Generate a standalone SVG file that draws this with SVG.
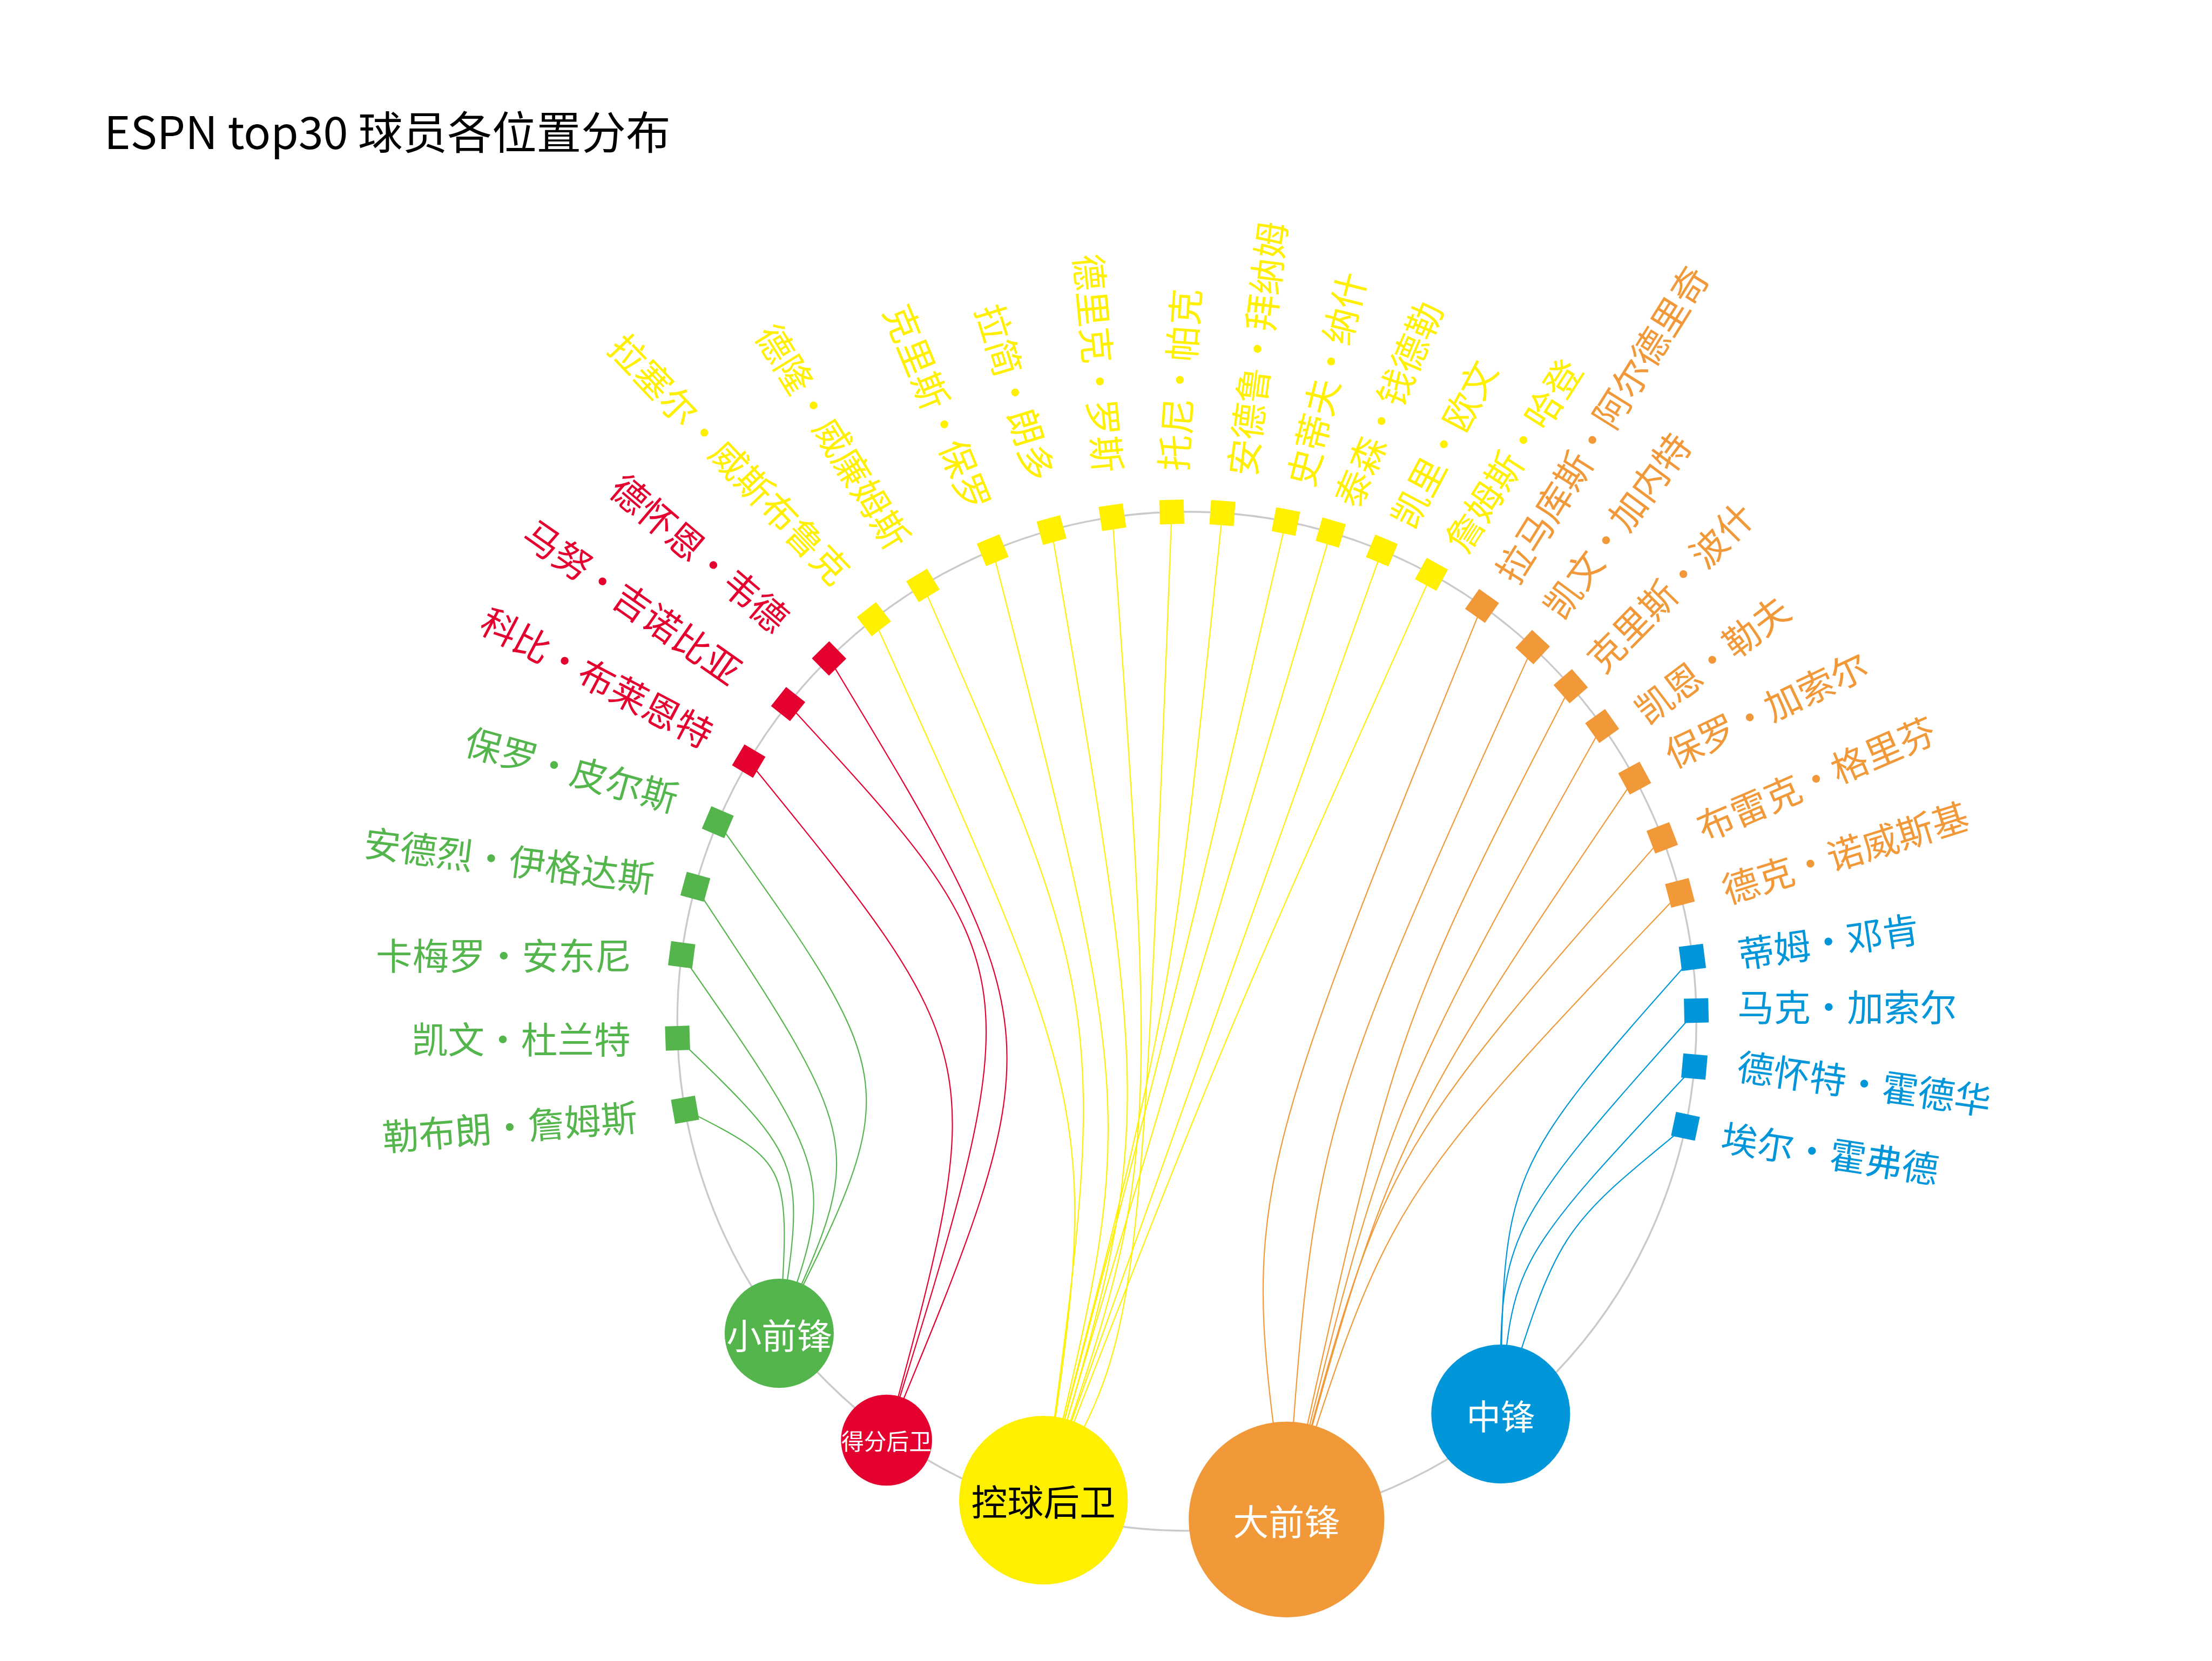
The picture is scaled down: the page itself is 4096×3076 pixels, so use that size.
<svg xmlns="http://www.w3.org/2000/svg" width="4096" height="3076" viewBox="0 0 4096 3076">
<style>
text{font-family:"Noto Sans CJK SC","Noto Sans",sans-serif}
.lbl{font-size:81px;text-anchor:middle;dominant-baseline:central}
.nd{text-anchor:middle;dominant-baseline:central}
.g{fill:#53b54c}.r{fill:#e4002f}.y{fill:#fff000}.o{fill:#f19838}.b{fill:#0096d9}
#connectors path{fill:none;stroke-width:2.6}
.cg{stroke:#53b54c}.cr{stroke:#e4002f}.cy{stroke:#fff000}.co{stroke:#f19838}.cb{stroke:#0096d9}
</style>
<defs><rect id="sq" x="-27" y="-27" width="54" height="54"/></defs>
<rect width="4096" height="3076" fill="#fff"/>
<g transform="scale(0.835)">
<text x="231" y="330" font-size="99" fill="#000">ESPN top30 球员各位置分布</text>
<circle id="ring" cx="2632" cy="2265" r="1130" fill="none" stroke="#cacaca" stroke-width="4"/>
<g id="connectors">
<path class="cg" d="M1519.2 2461.2C1754 2580 1754 2580 1728 2957"/>
<path class="cg" d="M1502.6 2302.5C1788 2577 1788 2577 1728 2957"/>
<path class="cg" d="M1511.7 2117.5C1853 2608 1853 2608 1728 2957"/>
<path class="cg" d="M1542 1966.8C1921 2539 1921 2539 1728 2957"/>
<path class="cg" d="M1591.8 1823.5C2005 2403 2005 2403 1728 2957"/>
<path class="cr" d="M1660.4 1688C2196 2346 2196 2346 1966 3194"/>
<path class="cr" d="M1747.7 1561.6C2290 2150 2290 2150 1966 3194"/>
<path class="cr" d="M1838.6 1460.4C2341 2291 2341 2291 1966 3194"/>
<path class="cy" d="M1937.9 1373.3C2439 2478 2439 2478 2314 3327"/>
<path class="cy" d="M2046.6 1298.4C2460 2243 2460 2243 2314 3327"/>
<path class="cy" d="M2201.4 1220.3C2521 2470 2521 2470 2314 3327"/>
<path class="cy" d="M2331.9 1175.6C2559 2503 2559 2503 2314 3327"/>
<path class="cy" d="M2466.9 1147.1C2569 2587 2569 2587 2314 3327"/>
<path class="cy" d="M2598.5 1135.5C2528 2962 2528 2962 2314 3327"/>
<path class="cy" d="M2710.8 1137.8C2598 2233 2598 2233 2314 3327"/>
<path class="cy" d="M2851.5 1156.5C2600 2242 2600 2242 2314 3327"/>
<path class="cy" d="M2951 1181C2632 2254 2632 2254 2314 3327"/>
<path class="cy" d="M3064.4 1221C2689 2274 2689 2274 2314 3327"/>
<path class="cy" d="M3174.5 1273.8C2715 2300 2715 2300 2314 3327"/>
<path class="co" d="M3286.6 1343.9C2752 2660 2752 2660 2853 3370"/>
<path class="co" d="M3399 1435.2C2914 2502 2914 2502 2853 3370"/>
<path class="co" d="M3483.3 1521.9C3093 2278 3093 2278 2853 3370"/>
<path class="co" d="M3553 1610.2C3075 2464 3075 2464 2853 3370"/>
<path class="co" d="M3625.1 1725.8C3084 2526 3084 2526 2853 3370"/>
<path class="co" d="M3686.2 1858.2C3066 2566 3066 2566 2853 3370"/>
<path class="co" d="M3725.5 1980.2C3079 2658 3079 2658 2853 3370"/>
<path class="cb" d="M3753.1 2123.4C3333 2597 3333 2597 3328 3136"/>
<path class="cb" d="M3761.8 2241.3C3325 2731 3325 2731 3328 3136"/>
<path class="cb" d="M3757.5 2365.4C3353 2797 3353 2797 3328 3136"/>
<path class="cb" d="M3737.7 2498C3456 2728 3456 2728 3328 3136"/>
</g>
<g id="players">
<g id="p01" class="g"><use href="#sq" transform="translate(1519.2 2461.2) rotate(170)"/><text class="lbl" transform="translate(1130 2495) rotate(-4.6)">勒布朗•詹姆斯</text></g>
<g id="p02" class="g"><use href="#sq" transform="translate(1502.6 2302.5) rotate(178.1)"/><text class="lbl" transform="translate(1155.5 2300.6)">凯文•杜兰特</text></g>
<g id="p03" class="g"><use href="#sq" transform="translate(1511.7 2117.5) rotate(187.5)"/><text class="lbl" transform="translate(1117 2115)">卡梅罗•安东尼</text></g>
<g id="p04" class="g"><use href="#sq" transform="translate(1542 1966.8) rotate(195.3)"/><text class="lbl" transform="translate(1130 1904) rotate(7.2)">安德烈•伊格达斯</text></g>
<g id="p05" class="g"><use href="#sq" transform="translate(1591.8 1823.5) rotate(203)"/><text class="lbl" transform="translate(1269 1703) rotate(15.6)">保罗•皮尔斯</text></g>
<g id="p06" class="r"><use href="#sq" transform="translate(1660.4 1688) rotate(210.7)"/><text class="lbl" transform="translate(1326 1499) rotate(27.7)">科比•布莱恩特</text></g>
<g id="p07" class="r"><use href="#sq" transform="translate(1747.7 1561.6) rotate(218.5)"/><text class="lbl" transform="translate(1405 1332) rotate(35)">马努•吉诺比亚</text></g>
<g id="p08" class="r"><use href="#sq" transform="translate(1838.6 1460.4) rotate(225.4)"/><text class="lbl" transform="translate(1554 1223.5) rotate(40.4)">德怀恩•韦德</text></g>
<g id="p09" class="y"><use href="#sq" transform="translate(1937.9 1373.3) rotate(232.1)"/><text class="lbl" transform="translate(1621 1015) rotate(46.3)">拉塞尔•威斯布鲁克</text></g>
<g id="p10" class="y"><use href="#sq" transform="translate(2046.6 1298.4) rotate(238.8)"/><text class="lbl" transform="translate(1850.6 965.7) rotate(58.3)">德隆•威廉姆斯</text></g>
<g id="p11" class="y"><use href="#sq" transform="translate(2201.4 1220.3) rotate(247.6)"/><text class="lbl" transform="translate(2083 902) rotate(67.7)">克里斯•保罗</text></g>
<g id="p12" class="y"><use href="#sq" transform="translate(2331.9 1175.6) rotate(254.6)"/><text class="lbl" transform="translate(2255.6 869) rotate(72.9)">拉简•朗多</text></g>
<g id="p13" class="y"><use href="#sq" transform="translate(2466.9 1147.1) rotate(261.6)"/><text class="lbl" transform="translate(2440 805) rotate(84.6)">德里克•罗斯</text></g>
<g id="p14" class="y"><use href="#sq" transform="translate(2598.5 1135.5) rotate(268.3)"/><text class="lbl" transform="translate(2612 842) rotate(-85.9)">托尼•帕克</text></g>
<g id="p15" class="y"><use href="#sq" transform="translate(2710.8 1137.8) rotate(274)"/><text class="lbl" transform="translate(2784 773) rotate(-82.9)">安德鲁•拜纳姆</text></g>
<g id="p16" class="y"><use href="#sq" transform="translate(2851.5 1156.5) rotate(281.2)"/><text class="lbl" transform="translate(2937.5 839.7) rotate(-75.8)">史蒂夫•纳什</text></g>
<g id="p17" class="y"><use href="#sq" transform="translate(2951 1181) rotate(286.4)"/><text class="lbl" transform="translate(3075 894.5) rotate(-67.1)">泰森•钱德勒</text></g>
<g id="p18" class="y"><use href="#sq" transform="translate(3064.4 1221) rotate(292.5)"/><text class="lbl" transform="translate(3198 983) rotate(-62.1)">凯里•欧文</text></g>
<g id="p19" class="y"><use href="#sq" transform="translate(3174.5 1273.8) rotate(298.7)"/><text class="lbl" transform="translate(3352.8 1007.7) rotate(-57.5)">詹姆斯•哈登</text></g>
<g id="p20" class="o"><use href="#sq" transform="translate(3286.6 1343.9) rotate(305.4)"/><text class="lbl" transform="translate(3549 939) rotate(-58)">拉马库斯•阿尔德里奇</text></g>
<g id="p21" class="o"><use href="#sq" transform="translate(3399 1435.2) rotate(312.8)"/><text class="lbl" transform="translate(3582 1163) rotate(-53.5)">凯文•加内特</text></g>
<g id="p22" class="o"><use href="#sq" transform="translate(3483.3 1521.9) rotate(318.9)"/><text class="lbl" transform="translate(3701.5 1298.9) rotate(-45.5)">克里斯•波什</text></g>
<g id="p23" class="o"><use href="#sq" transform="translate(3553 1610.2) rotate(324.6)"/><text class="lbl" transform="translate(3794.5 1459.8) rotate(-37.2)">凯恩•勒夫</text></g>
<g id="p24" class="o"><use href="#sq" transform="translate(3625.1 1725.8) rotate(331.5)"/><text class="lbl" transform="translate(3915 1569.7) rotate(-25.4)">保罗•加索尔</text></g>
<g id="p25" class="o"><use href="#sq" transform="translate(3686.2 1858.2) rotate(338.9)"/><text class="lbl" transform="translate(4025.6 1723) rotate(-23.3)">布雷克•格里芬</text></g>
<g id="p26" class="o"><use href="#sq" transform="translate(3725.5 1980.2) rotate(345.4)"/><text class="lbl" transform="translate(4090.7 1886.8) rotate(-17.4)">德克•诺威斯基</text></g>
<g id="p27" class="b"><use href="#sq" transform="translate(3753.1 2123.4) rotate(352.8)"/><text class="lbl" transform="translate(4054 2083.7) rotate(-8.4)">蒂姆•邓肯</text></g>
<g id="p28" class="b"><use href="#sq" transform="translate(3761.8 2241.3) rotate(358.8)"/><text class="lbl" transform="translate(4096 2228.8)">马克•加索尔</text></g>
<g id="p29" class="b"><use href="#sq" transform="translate(3757.5 2365.4) rotate(5.1)"/><text class="lbl" transform="translate(4134.7 2398.8) rotate(8)">德怀特•霍德华</text></g>
<g id="p30" class="b"><use href="#sq" transform="translate(3737.7 2498) rotate(11.9)"/><text class="lbl" transform="translate(4059 2554) rotate(8.7)">埃尔•霍弗德</text></g>
</g>
<g id="positions">
<g id="n-sf"><circle class="g" cx="1728" cy="2957" r="121"/><text class="nd" x="1728" y="2957" font-size="78" fill="#fff">小前锋</text></g>
<g id="n-sg"><circle class="r" cx="1966" cy="3194" r="101"/><text class="nd" x="1966" y="3194" font-size="50" fill="#fff">得分后卫</text></g>
<g id="n-pg"><circle class="y" cx="2314" cy="3327" r="187"/><text class="nd" x="2314" y="3327" font-size="80" fill="#000">控球后卫</text></g>
<g id="n-pf"><circle class="o" cx="2853" cy="3370" r="217"/><text class="nd" x="2853" y="3370" font-size="79" fill="#fff">大前锋</text></g>
<g id="n-c"><circle class="b" cx="3328" cy="3136" r="154"/><text class="nd" x="3328" y="3136" font-size="76" fill="#fff">中锋</text></g>
</g>
</g>
</svg>
